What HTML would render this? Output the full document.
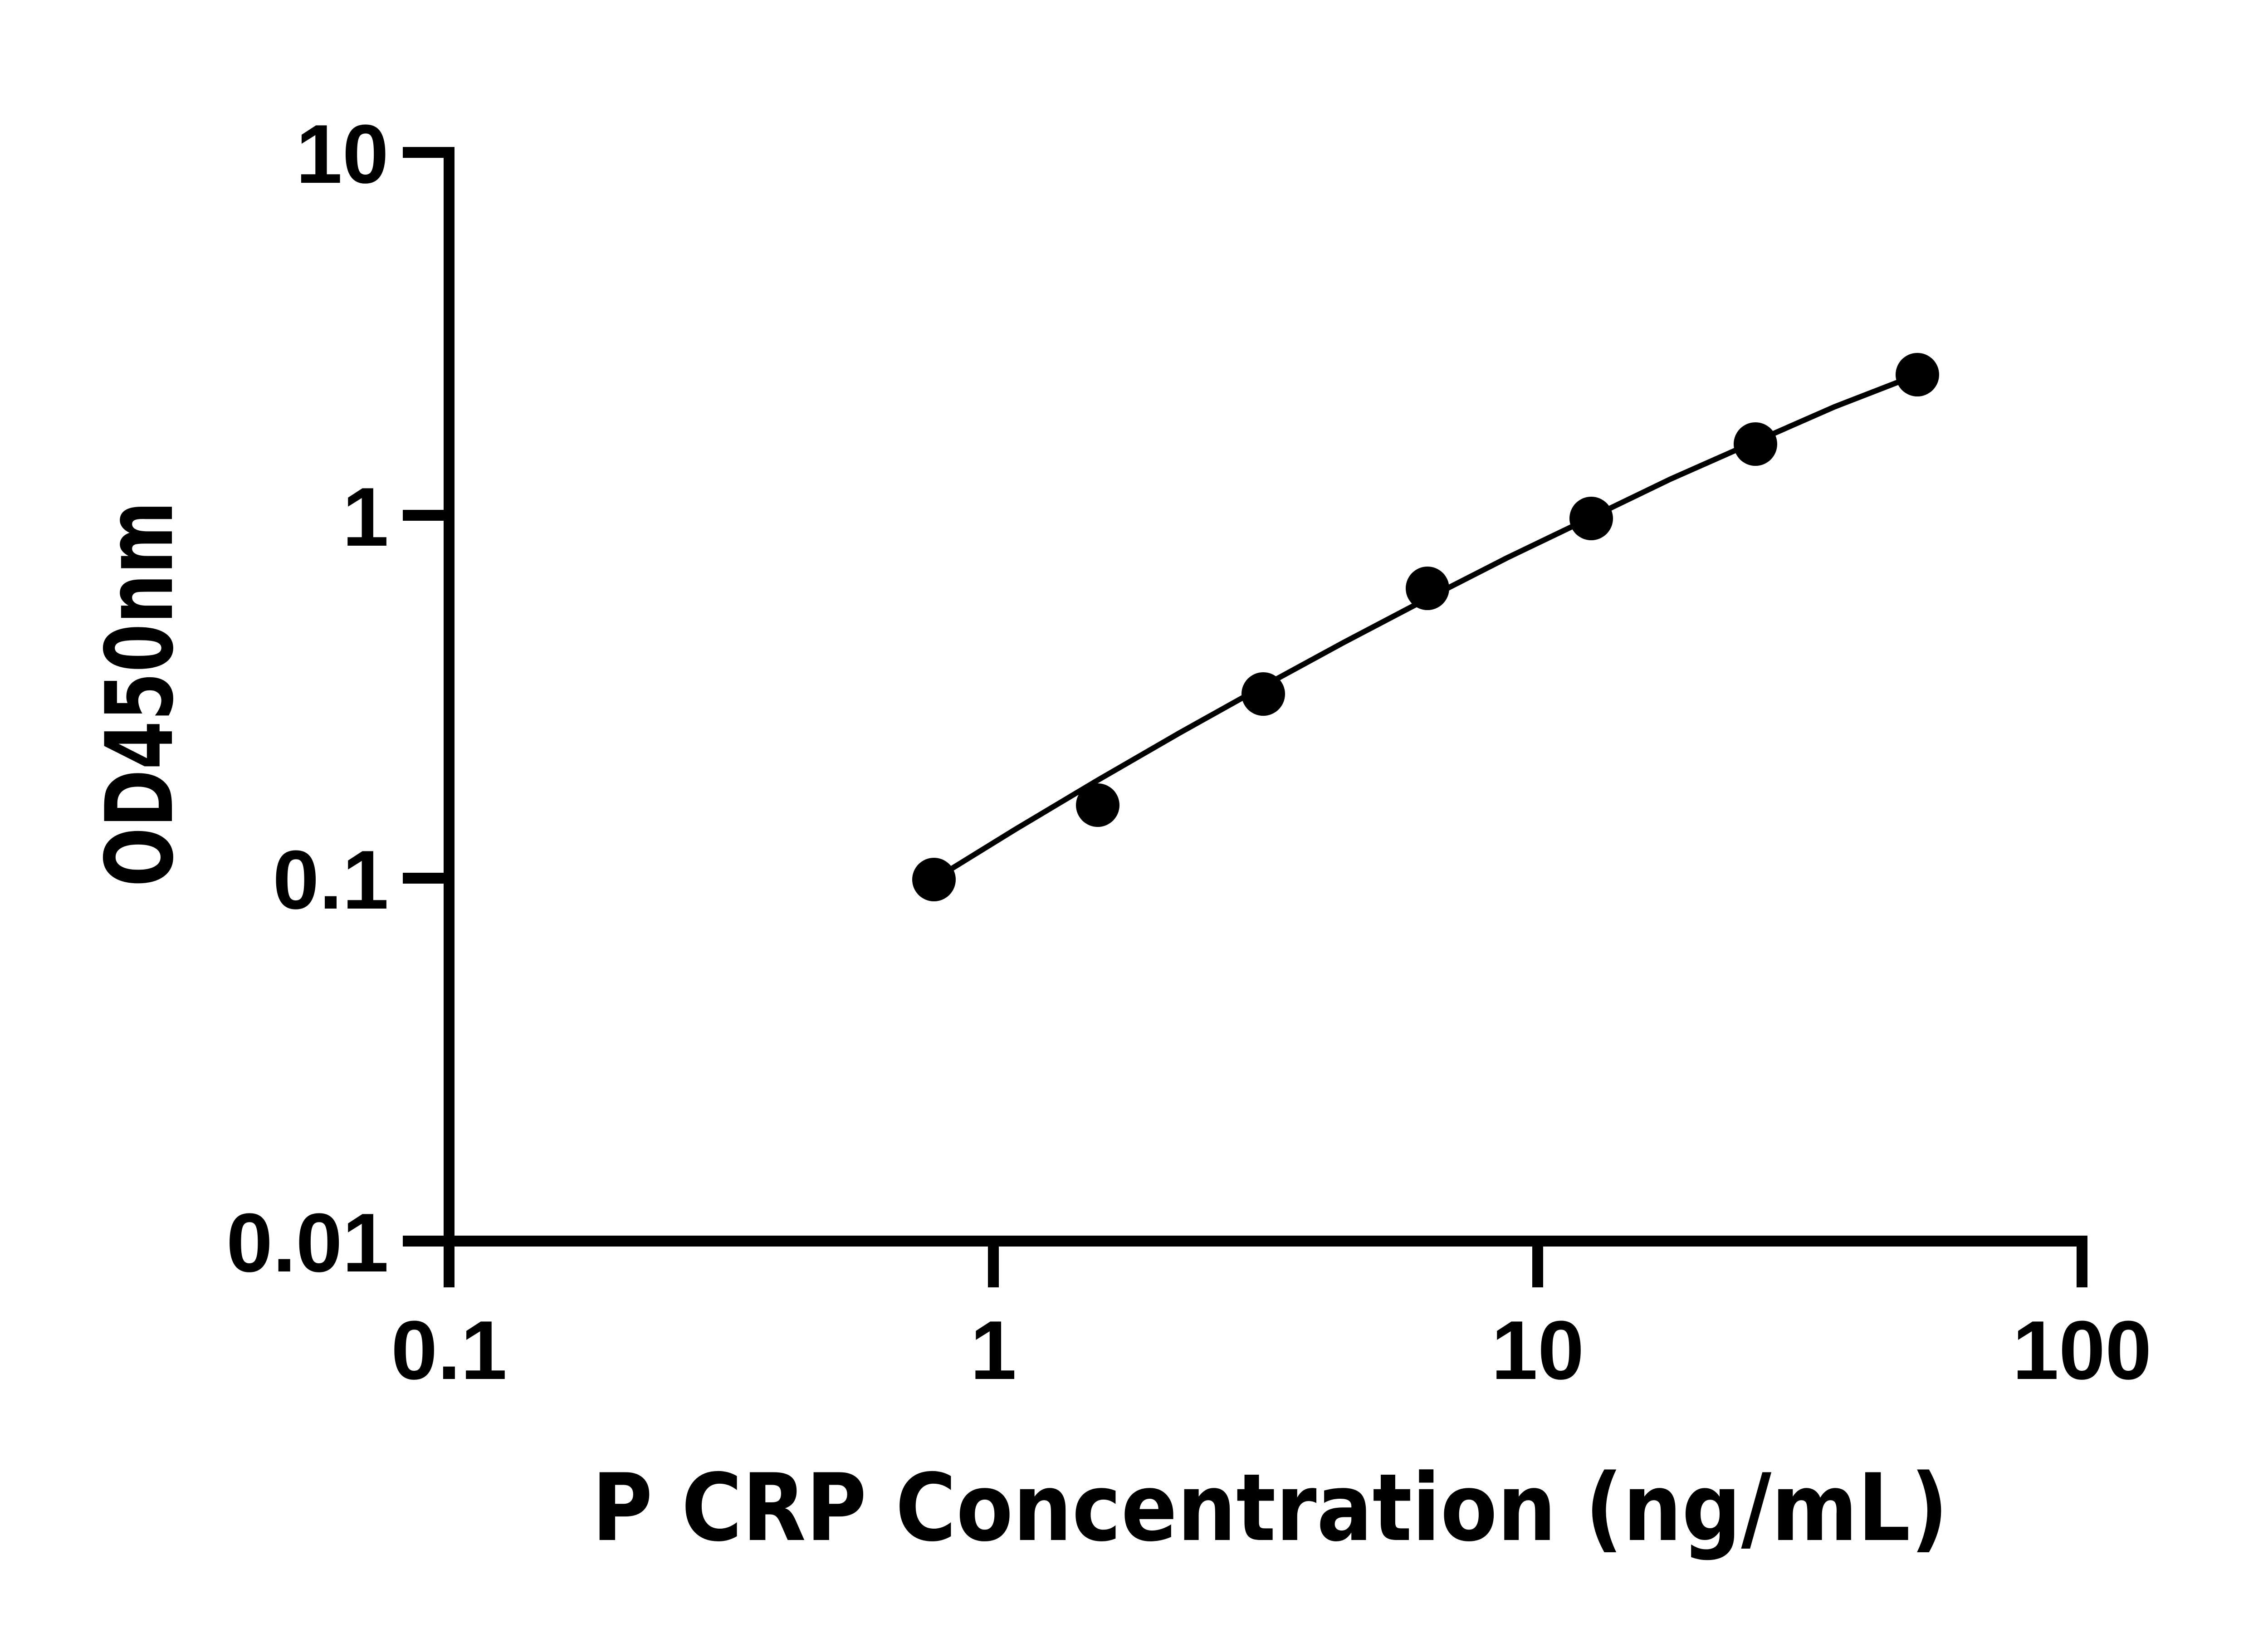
<!DOCTYPE html>
<html><head><meta charset="utf-8"><style>html,body{margin:0;padding:0;background:#fff}svg{display:block}
.t{font-family:"Liberation Sans",Arial,sans-serif;font-weight:bold;font-size:184px}
.ti{font-family:"DejaVu Sans","Liberation Sans",sans-serif;font-weight:bold;font-size:205px}
</style></head>
<body>
<svg width="5142" height="3600" viewBox="0 0 5142 3600" xmlns="http://www.w3.org/2000/svg">
<g stroke="#000" stroke-width="24" fill="none" stroke-linecap="butt">
<line x1="990" y1="324" x2="990" y2="2748"/>
<line x1="978" y1="2736" x2="4602" y2="2736"/>
<line x1="888" y1="336" x2="990" y2="336"/>
<line x1="888" y1="1136" x2="990" y2="1136"/>
<line x1="888" y1="1936" x2="990" y2="1936"/>
<line x1="888" y1="2736" x2="990" y2="2736"/>
<line x1="990" y1="2736" x2="990" y2="2838"/>
<line x1="2190" y1="2736" x2="2190" y2="2838"/>
<line x1="3390" y1="2736" x2="3390" y2="2838"/>
<line x1="4590" y1="2736" x2="4590" y2="2838"/>
</g>
<g class="t" fill="#000">
<text x="857" y="403" text-anchor="end">10</text>
<text x="857" y="1203" text-anchor="end">1</text>
<text x="857" y="2003" text-anchor="end">0.1</text>
<text x="857" y="2803" text-anchor="end">0.01</text>
<text x="990" y="3040" text-anchor="middle">0.1</text>
<text x="2190" y="3040" text-anchor="middle">1</text>
<text x="3390" y="3040" text-anchor="middle">10</text>
<text x="4590" y="3040" text-anchor="middle">100</text>
</g>
<text class="ti" x="1305" y="3395" textLength="2990" lengthAdjust="spacingAndGlyphs">P CRP Concentration (ng/mL)</text>
<text class="ti" transform="translate(379,1530) rotate(-90)" text-anchor="middle" textLength="850" lengthAdjust="spacingAndGlyphs">OD450nm</text>
<polyline points="2059,1939 2239,1828 2420,1720 2600,1616 2781,1515 2961,1417 3142,1322 3322,1230 3503,1143 3683,1056 3864,976 4044,897 4227,826" fill="none" stroke="#000" stroke-width="12" stroke-linejoin="round"/>
<g fill="#000">
<circle cx="2059" cy="1939" r="48"/>
<circle cx="2420" cy="1775" r="48"/>
<circle cx="2785" cy="1530" r="48"/>
<circle cx="3147" cy="1297" r="48"/>
<circle cx="3508" cy="1143" r="48"/>
<circle cx="3870" cy="979" r="48"/>
<circle cx="4227" cy="826" r="48"/>
</g>
</svg>
</body></html>
